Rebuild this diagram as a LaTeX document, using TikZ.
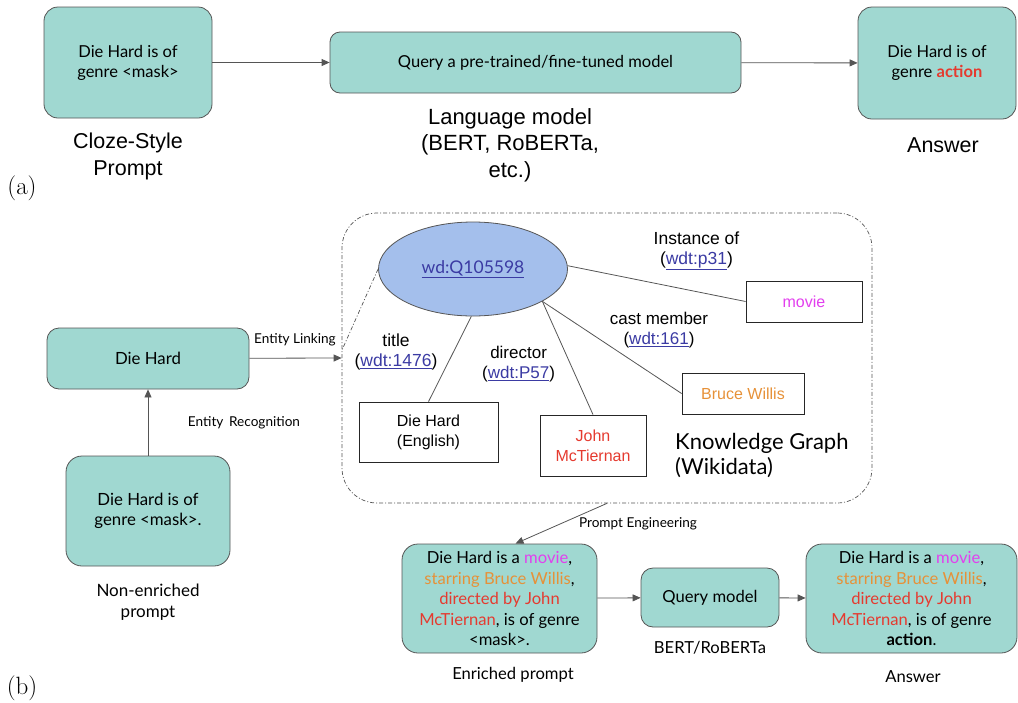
\documentclass[tikz,border=0pt]{standalone}
\usepackage{fontspec}
\setmainfont{Lato}
\newfontfamily\arial{Liberation Sans}
\newfontfamily\lmr{Latin Modern Roman}
\usetikzlibrary{shapes.geometric,arrows.meta,calc}
\definecolor{tealfill}{HTML}{A0D8D1}
\definecolor{edgegray}{HTML}{555555}
\definecolor{lblue}{HTML}{A4BFEC}
\definecolor{linkb}{HTML}{3B3BA3}
\definecolor{mag}{HTML}{E23FEE}
\definecolor{org}{HTML}{E69138}
\definecolor{rd}{HTML}{E53A2F}
\newcommand{\lnk}[1]{\textcolor{linkb}{\underline{#1}}}
\newcommand{\fs}[2]{\fontsize{#1}{#2}\selectfont}
\begin{document}
\begin{tikzpicture}[x=1pt,y=-1pt,
  box/.style={draw=edgegray, fill=tealfill, rounded corners=14pt, line width=0.8pt, align=center, inner sep=0pt},
  wbox/.style={draw=black!85, line width=0.8pt, align=center, inner sep=0pt, font=\arial\fs{16}{20}},
  arr/.style={draw=edgegray, line width=0.8pt, -{Triangle[length=8pt,width=7pt]}},
  ln/.style={draw=edgegray, line width=0.8pt},
  lbl/.style={align=center, inner sep=0pt},
  dd/.style={draw=edgegray, line width=0.7pt, dash pattern=on 4pt off 2pt on 1pt off 2pt}]
\useasboundingbox (0,0) rectangle (1018,702);
% ---------- (a) ----------
\node[box, minimum width=168, minimum height=111, font=\fs{16.5}{20}] (a1) at (128,62.5) {Die Hard is of\\genre <mask>};
\node[box, rounded corners=10pt, minimum width=411, minimum height=61, font=\fs{16.5}{20}] (a2) at (535.5,62.5) {Query a pre-trained/fine-tuned model};
\node[box, minimum width=158, minimum height=112, font=\fs{16.5}{20}] (a3) at (937,63) {Die Hard is of\\genre \textcolor{rd}{\textbf{action}}};
\draw[arr] (a1) -- (a2);
\draw[arr] (a2) -- (a3);
\node[lbl, font=\arial\fs{21.5}{27}] (la1) at (128,156) {Cloze-Style\\Prompt};
\node[lbl, font=\arial\fs{22}{26.5}] (la2) at (510,145) {Language model\\(BERT, RoBERTa,\\etc.)};
\node[lbl, font=\arial\fs{21.5}{27}] (la3) at (943,145) {Answer};
\node[lbl, font=\lmr\fs{25}{28}] (pa) at (22,188) {(a)};
% ---------- (b) ----------
\node[dd, rounded corners=35pt, minimum width=530, minimum height=290, inner sep=0pt] (kg) at (607,358) {};
\node[ellipse, draw=edgegray, fill=lblue, line width=0.8pt, minimum width=189, minimum height=94, inner sep=0pt, font=\fs{17.5}{20}] (ent) at (473,269) {\lnk{wd:Q105598}};
\node[wbox, minimum width=116, minimum height=41] (movie) at (804,301.5) {\textcolor{mag}{movie}};
\node[wbox, minimum width=122, minimum height=41] (bw) at (743,393.5) {\textcolor{org}{Bruce Willis}};
\node[wbox, minimum width=106, minimum height=61] (jm) at (593,445.5) {\textcolor{rd}{John}\\\textcolor{rd}{McTiernan}};
\node[wbox, minimum width=139, minimum height=60] (dh) at (428.5,432) {Die Hard\\(English)};
\draw[ln] (ent.-92) -- (dh.north);
\draw[ln] (ent.-25) -- (jm.north);
\draw[ln] (ent.-25) -- (bw.west);
\draw[ln] (ent.2) -- (movie.west);
\node[lbl, font=\arial\fs{17.5}{20}] (ltitle) at (396,352) {title\\(\lnk{wdt:1476})};
\node[lbl, font=\arial\fs{17}{20}] (ldir) at (518.6,364) {director\\(\lnk{wdt:P57})};
\node[lbl, font=\arial\fs{17}{20}] (lcast) at (659,330) {cast member\\(\lnk{wdt:161})};
\node[lbl, font=\arial\fs{17.5}{20}] (linst) at (696.5,251) {Instance of\\(\lnk{wdt:p31})};
\node[lbl, align=left, anchor=west, font=\fs{22}{25}] (lkg) at (675,456) {Knowledge Graph\\(Wikidata)};
% left part
\node[box, rounded corners=12pt, minimum width=202, minimum height=61, font=\fs{16.8}{20}] (dhb) at (148,358.5) {Die Hard};
\node[box, rounded corners=16pt, minimum width=164, minimum height=110, font=\fs{16.8}{20}] (ne) at (148,511) {Die Hard is of\\genre <mask>.};
\draw[arr] (ne) -- (dhb);
\draw[arr] (dhb) -- (kg.west);
\coordinate (kgl) at (342,350);
\draw[dd] (ent.west) -- (kgl);
\node[lbl, font=\fs{13.6}{15}] (lel) at (295,340) {Entity Linking};
\node[lbl, font=\fs{13.6}{15}] (ler) at (244,423) {Entity\, Recognition};
\node[lbl, font=\fs{17}{21}] (lne) at (148,602) {Non-enriched\\prompt};
\node[lbl, font=\lmr\fs{25}{28}] (pb) at (22,688) {(b)};
% bottom row
\node[box, rounded corners=16pt, minimum width=195, minimum height=109, font=\fs{16.6}{20.5}] (enr) at (499.5,598.5) {Die Hard is a \textcolor{mag}{movie},\\\textcolor{org}{starring Bruce Willis},\\\textcolor{rd}{directed by John}\\\textcolor{rd}{McTiernan}, is of genre\\<mask>.};
\node[box, rounded corners=12pt, minimum width=138, minimum height=59, font=\fs{16.6}{20}] (qm) at (710,597.5) {Query model};
\node[box, rounded corners=16pt, minimum width=211, minimum height=109, font=\fs{16.6}{20.5}] (ans) at (911.5,598.5) {Die Hard is a \textcolor{mag}{movie},\\\textcolor{org}{starring Bruce Willis},\\\textcolor{rd}{directed by John}\\\textcolor{rd}{McTiernan}, is of genre\\\textbf{action}.};
\draw[arr] (enr) -- (qm);
\draw[arr] (qm) -- (ans);
\coordinate (enrt) at ($(enr.north)+(16,0)$);
\draw[arr] (kg.south) -- (enrt);
\node[lbl, font=\fs{13.6}{15}] (lpe) at (638,524) {Prompt Engineering};
\node[lbl, font=\fs{16.6}{20}] (lbr) at (710,648) {BERT/RoBERTa};
\node[lbl, font=\fs{16.6}{20}] (lep) at (513,675) {Enriched prompt};
\node[lbl, font=\fs{16.6}{20}] (lans) at (913,677) {Answer};
\end{tikzpicture}
\end{document}
